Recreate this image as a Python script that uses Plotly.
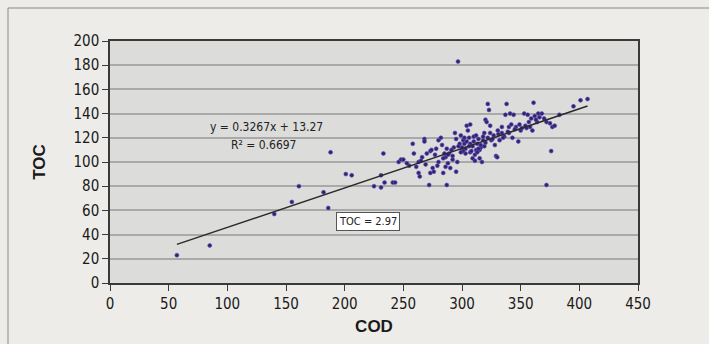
import plotly.graph_objects as go

cod = [57, 85, 140, 155, 161, 182, 186, 188, 201, 206, 225, 231, 231, 233, 234, 241, 243,
       246, 248, 250, 255, 258, 259, 261, 263, 263, 264, 266, 268, 268, 270, 272, 273, 273,
       274, 275, 276, 278, 280, 280, 282, 283, 284, 285, 286, 286, 287, 287, 288, 289, 290,
       292, 292, 293, 294, 295, 295, 296, 296.6, 298, 299, 300, 300, 301, 302, 303, 303, 304,
       305, 306, 307, 307, 307, 309, 309, 310, 311, 311, 312, 313, 314, 315, 315, 316, 317,
       318, 319, 320, 320, 321, 322, 323, 324, 324, 325, 327, 328, 329, 330, 330.5, 332, 334,
       334, 336, 337, 338, 340, 340, 341, 342, 343, 344, 346, 348, 350, 351, 353, 355, 356,
       358, 359, 360, 361, 362, 364, 365, 368, 372, 372, 375, 376, 377, 379, 383, 395, 401, 407,
       284, 288, 291, 297, 301, 304, 306, 308, 310, 313, 316, 318, 322, 326, 331, 335, 339,
       345, 349, 354, 357, 363, 366, 370, 279, 277, 269, 265, 253, 299, 302, 312, 314, 319]
toc = [23, 31, 57, 67, 80, 75, 62, 108, 90, 89, 80, 79, 89, 107, 83, 83, 83,
       100, 102, 102, 97, 115, 107, 96, 100, 91, 88, 104, 119, 117, 107, 81, 109, 91,
       110, 95, 92, 111, 118, 100, 120, 114, 91, 107, 96, 104, 81, 111, 99, 107, 95,
       102, 105, 112, 124, 119, 92, 100, 183, 115, 122, 110, 112, 118, 115, 107, 111, 130,
       126, 120, 115, 131, 108, 103, 113, 121, 101, 106, 110, 115, 119, 103, 110, 112, 100,
       118, 124, 135, 116, 133, 148, 143, 130, 124, 118, 122, 114, 105, 104, 126, 118, 129,
       124, 121, 139, 148, 129, 124, 140, 131, 120, 139, 129, 117, 126, 128, 140, 128, 139,
       129, 136, 126, 149, 138, 133, 140, 140, 81, 133, 132, 109, 129, 130, 139, 146, 151, 152,
       103, 106, 110, 113, 109, 117, 113, 109, 117, 108, 114, 121, 120, 119, 123, 120, 125,
       127, 131, 130, 133, 135, 137, 136, 97, 106, 98, 101, 99, 108, 120, 122, 111, 113]

slope = 0.3267
intercept = 13.27
eq_text = "y = 0.3267x + 13.27"
r2_text = "R² = 0.6697"
box_text = "TOC = 2.97"

x_ticks = [0, 50, 100, 150, 200, 250, 300, 350, 400, 450]
y_ticks = [0, 20, 40, 60, 80, 100, 120, 140, 160, 180, 200]

trend_x = [min(cod), max(cod)]
trend_y = [slope * v + intercept for v in trend_x]

font_main = "DejaVu Sans Condensed, Liberation Sans Narrow, Roboto, sans-serif"
font_title = "Liberation Sans, Arial, sans-serif"

fig = go.Figure()
fig.add_trace(go.Scatter(x=cod, y=toc, mode="markers",
                         marker=dict(size=4, color="#2f2470",
                                     line=dict(width=0.6, color="#6a4fb8")),
                         showlegend=False, hoverinfo="x+y"))
fig.add_trace(go.Scatter(x=trend_x, y=trend_y, mode="lines",
                         line=dict(color="#2a2a2a", width=1.5),
                         showlegend=False, hoverinfo="skip"))

fig.update_layout(
    width=709, height=344,
    margin=dict(l=110, r=71, t=41, b=61),
    paper_bgcolor="#eeece9",
    plot_bgcolor="#dcdcdb",
    font=dict(family=font_main, color="#1a1a1a"),
    xaxis=dict(range=[0, 450], tickvals=x_ticks, ticktext=[str(v) for v in x_ticks],
               automargin=False,
               showgrid=False, zeroline=False, showline=True, linecolor="#3a3a3a",
               linewidth=1.5, mirror=True, ticks="outside", ticklen=6, tickwidth=1.3,
               tickcolor="#3a3a3a",
               tickfont=dict(size=15, family=font_main, color="#1a1a1a"),
               title=dict(text="<b>COD</b>", font=dict(size=17, family=font_title),
                          standoff=8)),
    yaxis=dict(range=[0, 200], tickvals=y_ticks, ticktext=[str(v) for v in y_ticks],
               automargin=False,
               showgrid=True, gridcolor="#a9a9a9", gridwidth=1.5, zeroline=False,
               showline=True, linecolor="#3a3a3a", linewidth=1.5, mirror=True,
               ticks="outside", ticklen=6, tickwidth=1.3, tickcolor="#3a3a3a",
               tickfont=dict(size=15, family=font_main, color="#1a1a1a"),
               title=dict(text="<b>TOC</b>", font=dict(size=17, family=font_title),
                          standoff=24)),
)

fig.add_annotation(x=133, y=129, xref="x", yref="y", text=eq_text, showarrow=False,
                   font=dict(size=12, family=font_main, color="#222"))
fig.add_annotation(x=131, y=114, xref="x", yref="y", text=r2_text, showarrow=False,
                   font=dict(size=12, family=font_main, color="#222"))
fig.add_annotation(x=220, y=51, xref="x", yref="y", text=box_text, showarrow=False,
                   font=dict(size=11, family=font_main, color="#222"),
                   bgcolor="#ffffff", bordercolor="#555555", borderwidth=1, borderpad=2)

# outer frame of the figure panel
fig.add_shape(type="rect", xref="paper", yref="paper",
              x0=(8 - 110) / 528, x1=(715 - 110) / 528,
              y0=-(350 - 283) / 242, y1=1 + (41 - 8) / 242,
              line=dict(color="#8a8a8a", width=1), layer="below")

fig.write_html("out.html",
               config={"displayModeBar": False},
               post_script="document.body.style.margin='0';"
                           "document.body.style.background='#eeece9';")
